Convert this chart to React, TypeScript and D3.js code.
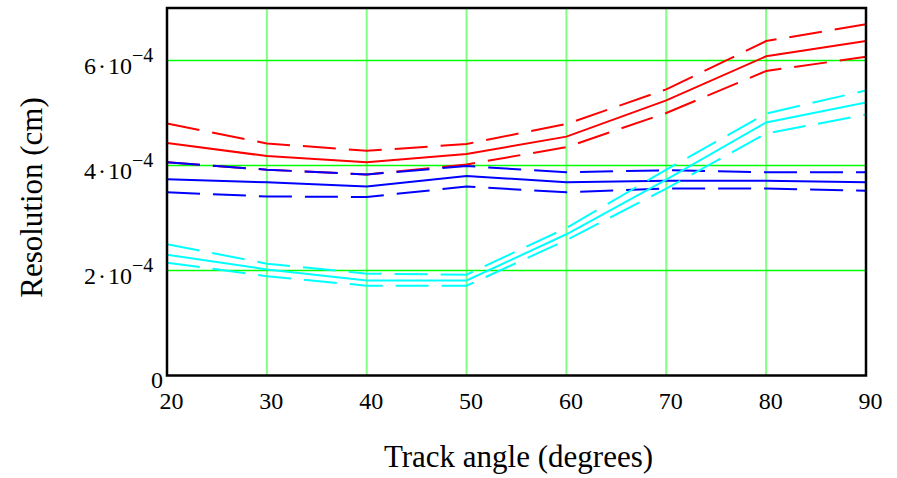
import React from "react";
import * as d3 from "d3";

const angles = [20, 30, 40, 50, 60, 70, 80, 90];
const redSolid = [4.43, 4.18, 4.06, 4.22, 4.55, 5.24, 6.08, 6.37];
const redUpper = [4.80, 4.42, 4.28, 4.41, 4.79, 5.45, 6.37, 6.69];
const redLower = [4.06, 3.92, 3.83, 4.02, 4.35, 5.0, 5.8, 6.07];
const blueSolid = [3.74, 3.68, 3.60, 3.80, 3.68, 3.71, 3.71, 3.68];
const blueUpper = [4.06, 3.92, 3.83, 3.99, 3.87, 3.91, 3.87, 3.87];
const blueLower = [3.49, 3.41, 3.40, 3.60, 3.49, 3.56, 3.56, 3.52];
const cyanSolid = [2.30, 2.02, 1.81, 1.81, 2.69, 3.73, 4.82, 5.20];
const cyanUpper = [2.50, 2.13, 1.94, 1.92, 2.81, 3.92, 4.99, 5.43];
const cyanLower = [2.15, 1.89, 1.71, 1.71, 2.58, 3.56, 4.61, 4.97];

const xTicks = [20, 30, 40, 50, 60, 70, 80, 90];
const yTicks = [2, 4, 6];
const xTitle = "Track angle (degrees)";
const yTitle = "Resolution (cm)";

const series = [
  { v: redUpper, c: "#ff0000", dash: true },
  { v: redSolid, c: "#ff0000", dash: false },
  { v: redLower, c: "#ff0000", dash: true },
  { v: blueUpper, c: "#0000ff", dash: true },
  { v: blueSolid, c: "#0000ff", dash: false },
  { v: blueLower, c: "#0000ff", dash: true },
  { v: cyanUpper, c: "#00ffff", dash: true },
  { v: cyanSolid, c: "#00ffff", dash: false },
  { v: cyanLower, c: "#00ffff", dash: true },
];

export default function App() {
  const W = 897, H = 478;
  const L = 167, R = 866, T = 8, B = 375.5;
  const x = d3.scaleLinear().domain([20, 90]).range([L, R]);
  const y = d3.scaleLinear().domain([0, 7e-4]).range([B, T]);
  const line = d3
    .line<number>()
    .x((_, i) => x(angles[i]))
    .y((d) => y(d * 1e-4));
  const font = "'Liberation Serif', 'Times New Roman', serif";
  return (
    <svg width={W} height={H} style={{ position: "absolute", left: 0, top: 0, background: "#fff" }}>
      <defs>
        <clipPath id="plotclip">
          <rect x={L} y={T} width={R - L} height={B - T} />
        </clipPath>
      </defs>
      {xTicks.slice(1, -1).map((t) => (
        <line key={"vx" + t} x1={x(t)} x2={x(t)} y1={T} y2={B} stroke="#80ff80" strokeWidth={2} />
      ))}
      {yTicks.map((t) => (
        <line key={"hy" + t} x1={L} x2={R} y1={y(t * 1e-4)} y2={y(t * 1e-4)} stroke="#00ff00" strokeWidth={1.5} />
      ))}
      <g clipPath="url(#plotclip)">
        {series.map((s, i) => (
          <path
            key={i}
            d={line(s.v) || ""}
            fill="none"
            stroke={s.c}
            strokeWidth={2}
            strokeDasharray={s.dash ? "33,13" : undefined}
          />
        ))}
      </g>
      <rect x={L} y={T} width={R - L} height={B - T} fill="none" stroke="#000" strokeWidth={2.5} />
      {xTicks.map((t) => (
        <text key={"xt" + t} x={x(t) + 4.5} y={409} textAnchor="middle" fontFamily={font} fontSize={24}>
          {t}
        </text>
      ))}
      {yTicks.map((t) => {
        const yy = y(t * 1e-4) + 13.7;
        return (
          <text key={"yt" + t} x={84} y={yy} fontFamily={font} fontSize={24}>
            {`${t}`}
            <tspan dx={2}>·</tspan>
            <tspan dx={2}>10</tspan>
            <tspan dy={-12} fontSize={20}>{"−4"}</tspan>
          </text>
        );
      })}
      <text x={163} y={388} textAnchor="end" fontFamily={font} fontSize={24}>
        0
      </text>
      <text x={518.5} y={467} textAnchor="middle" fontFamily={font} fontSize={31}>
        {xTitle}
      </text>
      <text
        transform={`translate(42,${197.5}) rotate(-90)`}
        textAnchor="middle"
        fontFamily={font}
        fontSize={31}
      >
        {yTitle}
      </text>
    </svg>
  );
}
